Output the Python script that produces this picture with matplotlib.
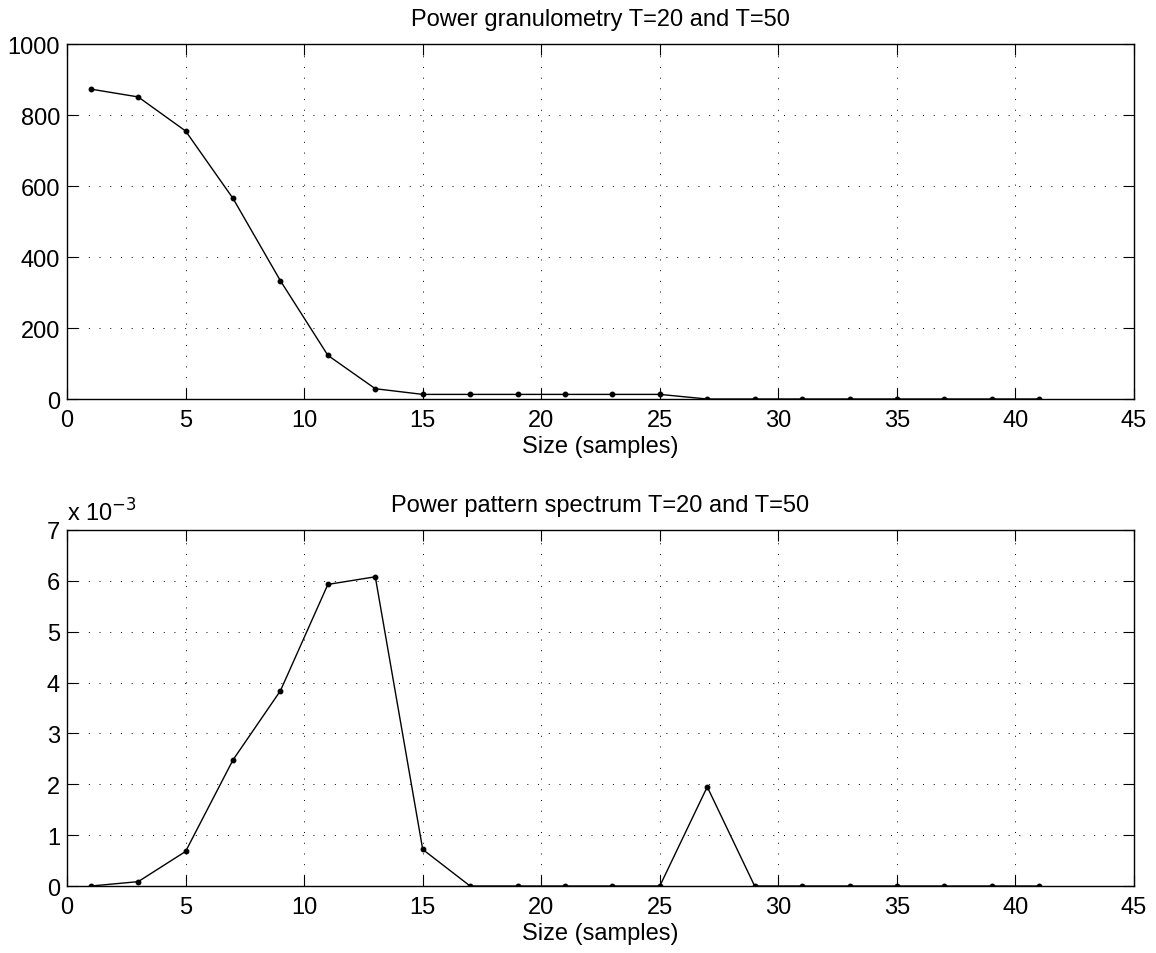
import matplotlib
matplotlib.use("Agg")
import matplotlib.pyplot as plt
import numpy as np

plt.rcParams['font.family'] = ['Liberation Sans', 'DejaVu Sans']

sizes = [1, 3, 5, 7, 9, 11, 13, 15, 17, 19, 21, 23, 25, 27, 29, 31, 33, 35, 37, 39, 41]
granulometry = [873, 851, 755, 565, 333, 123, 29, 13, 13, 13, 13, 13, 13, 0, 0, 0, 0, 0, 0, 0, 0]
spectrum_e3 = [0.0, 0.086, 0.68, 2.48, 3.84, 5.93, 6.08, 0.72, 0, 0, 0, 0, 0, 1.95, 0, 0, 0, 0, 0, 0, 0]

titles = ["Power granulometry T=20 and T=50", "Power pattern spectrum T=20 and T=50"]
xlabel = "Size (samples)"
xticks = [0, 5, 10, 15, 20, 25, 30, 35, 40, 45]
yticks_top = [0, 200, 400, 600, 800, 1000]
yticks_bot = [0, 1, 2, 3, 4, 5, 6, 7]

FS = 17

fig = plt.figure(figsize=(11.56, 9.54), dpi=100)
ax1 = fig.add_axes([0.058, 0.5807, 0.923, 0.3721])
ax2 = fig.add_axes([0.058, 0.0702, 0.923, 0.3732])

def style(ax, yticks):
    ax.set_xlim(0, 45)
    ax.set_xticks(xticks)
    ax.set_yticks(yticks)
    ax.set_ylim(yticks[0], yticks[-1])
    ax.grid(True, linestyle=(0, (1, 10)), color='black', linewidth=0.7)
    ax.tick_params(direction='in', top=True, right=True, length=8, width=0.8, labelsize=FS)
    ax.tick_params(axis='x', pad=7)
    ax.tick_params(axis='y', pad=5)
    for s in ax.spines.values():
        s.set_linewidth(1.0)
    ax.set_xlabel(xlabel, fontsize=FS, labelpad=3)

ax1.plot(sizes, granulometry, color='black', linewidth=1.0, marker='o', markersize=3.2)
style(ax1, yticks_top)
ax1.set_title(titles[0], fontsize=FS, pad=14)

ax2.plot(sizes, spectrum_e3, color='black', linewidth=1.0, marker='o', markersize=3.2)
style(ax2, yticks_bot)
ax2.set_title(titles[1], fontsize=FS, pad=14)
ax2.text(0.0, 1.012, r"x 10$^{-3}$", transform=ax2.transAxes, fontsize=FS, ha='left', va='bottom')

fig.savefig("out.png", dpi=100)
